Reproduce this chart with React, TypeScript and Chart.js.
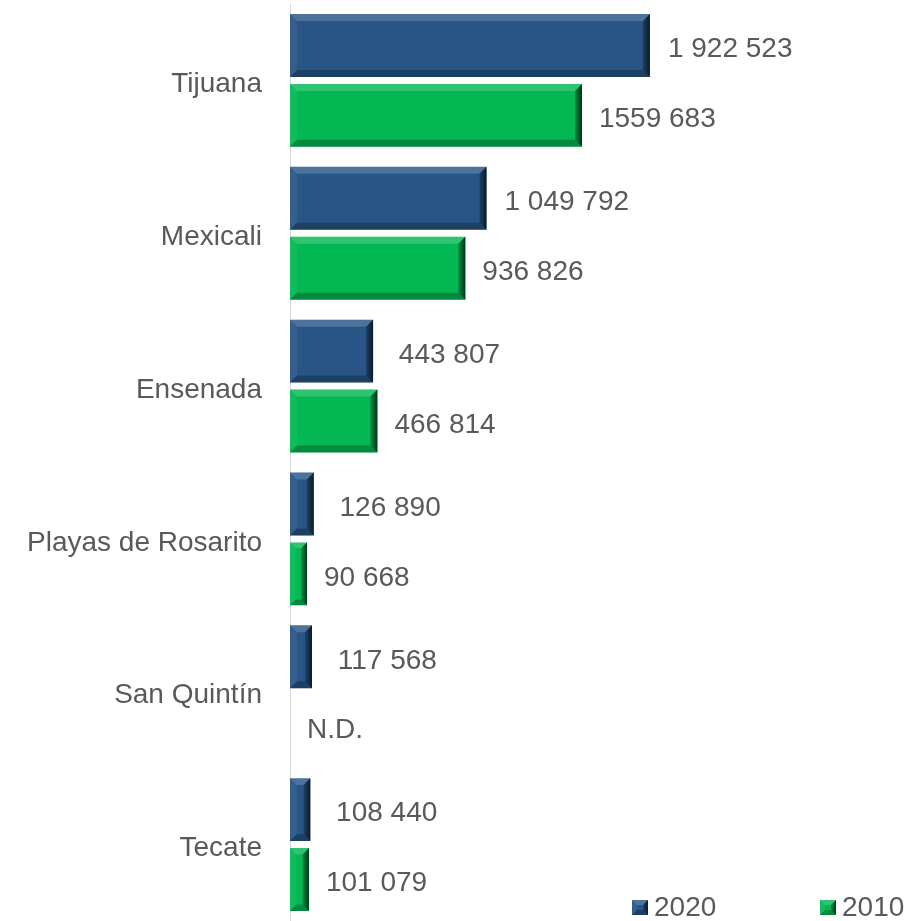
import { useEffect, useRef } from 'react';
import { Chart, registerables } from 'chart.js';

Chart.register(...registerables);

const categories = ['Tijuana', 'Mexicali', 'Ensenada', 'Playas de Rosarito', 'San Quintín', 'Tecate'];
const seriesNames = ['2020', '2010'];
const values2020 = [1922523, 1049792, 443807, 126890, 117568, 108440];
const values2010: (number | null)[] = [1559683, 936826, 466814, 90668, null, 101079];
const labels2020 = ['1 922 523', '1 049 792', ' 443 807', ' 126 890', ' 117 568', ' 108 440'];
const labels2010 = ['1559 683', '936 826', '466 814', '90 668', 'N.D.', '101 079'];

const FONT = "'Liberation Sans', Arial, sans-serif";
const TEXT = '#595959';
const BLUE = '#285586';
const GREEN = '#03B853';

function poly(ctx: CanvasRenderingContext2D, pts: number[][]) {
  ctx.beginPath();
  ctx.moveTo(pts[0][0], pts[0][1]);
  for (let i = 1; i < pts.length; i++) ctx.lineTo(pts[i][0], pts[i][1]);
  ctx.closePath();
  ctx.fill();
}

function bevel(ctx: CanvasRenderingContext2D, l: number, t: number, r: number, b: number, size: number) {
  const w = r - l;
  const h = b - t;
  if (w <= 1 || h <= 1) return;
  const s = Math.min(size, w / 3, h / 3);
  ctx.save();
  ctx.fillStyle = 'rgba(255,255,255,0.18)';
  poly(ctx, [[l, t], [r, t], [r - s, t + s], [l + s, t + s]]);
  ctx.fillStyle = 'rgba(255,255,255,0.06)';
  poly(ctx, [[l, t], [l + s, t + s], [l + s, b - s], [l, b]]);
  ctx.fillStyle = 'rgba(0,0,0,0.25)';
  poly(ctx, [[l, b], [r, b], [r - s, b - s], [l + s, b - s]]);
  const g = ctx.createLinearGradient(r - s, 0, r, 0);
  g.addColorStop(0, 'rgba(0,0,0,0.25)');
  g.addColorStop(1, 'rgba(0,0,0,0.7)');
  ctx.fillStyle = g;
  poly(ctx, [[r, t], [r - s, t + s], [r - s, b - s], [r, b]]);
  ctx.restore();
}

const bevelPlugin = {
  id: 'bevelBars',
  afterDatasetsDraw(chart: any) {
    const ctx = chart.ctx;
    chart.data.datasets.forEach((ds: any, i: number) => {
      const meta = chart.getDatasetMeta(i);
      meta.data.forEach((bar: any, j: number) => {
        if (ds.data[j] == null) return;
        const p = bar.getProps(['x', 'y', 'base', 'height'], true);
        if (!isFinite(p.x)) return;
        const l = Math.min(p.base, p.x);
        const r = Math.max(p.base, p.x);
        bevel(ctx, l, p.y - p.height / 2, r, p.y + p.height / 2, 7);
      });
    });
  },
};

const labelPlugin = {
  id: 'valueLabels',
  afterDatasetsDraw(chart: any) {
    const ctx = chart.ctx;
    const texts = [labels2020, labels2010];
    const offsets = [18, 17];
    const zero = chart.scales.x.getPixelForValue(0);
    ctx.save();
    ctx.font = `28px ${FONT}`;
    ctx.fillStyle = TEXT;
    ctx.textAlign = 'left';
    ctx.textBaseline = 'middle';
    chart.data.datasets.forEach((ds: any, i: number) => {
      const meta = chart.getDatasetMeta(i);
      meta.data.forEach((bar: any, j: number) => {
        const p = bar.getProps(['x', 'y'], true);
        const end = ds.data[j] == null || !isFinite(p.x) ? zero : p.x;
        ctx.fillText(texts[i][j], end + offsets[i], p.y + 4);
      });
    });
    ctx.restore();
  },
};

const legendPlugin = {
  id: 'cornerLegend',
  afterDraw(chart: any) {
    const ctx = chart.ctx;
    const xs = [632, 820];
    const boxY = 900;
    ctx.save();
    ctx.font = `28px ${FONT}`;
    ctx.textAlign = 'left';
    ctx.textBaseline = 'middle';
    chart.data.datasets.forEach((ds: any, i: number) => {
      const x = xs[i];
      ctx.fillStyle = ds.backgroundColor;
      ctx.fillRect(x, boxY, 16, 15);
      bevel(ctx, x, boxY, x + 16, boxY + 15, 5);
      ctx.fillStyle = TEXT;
      ctx.fillText(ds.label, x + 22, boxY + 8);
    });
    ctx.restore();
  },
};

export default function App() {
  const ref = useRef<HTMLCanvasElement | null>(null);

  useEffect(() => {
    if (!ref.current) return;
    const chart = new Chart(ref.current, {
      type: 'bar',
      data: {
        labels: categories,
        datasets: [
          {
            label: seriesNames[0],
            data: values2020,
            backgroundColor: BLUE,
            categoryPercentage: 0.915,
            barPercentage: 0.9,
          },
          {
            label: seriesNames[1],
            data: values2010,
            backgroundColor: GREEN,
            categoryPercentage: 0.915,
            barPercentage: 0.9,
          },
        ],
      },
      options: {
        indexAxis: 'y',
        responsive: false,
        animation: false,
        devicePixelRatio: 1,
        layout: { padding: { top: 4, bottom: 0, left: 0, right: 152 } },
        scales: {
          x: {
            display: false,
            min: 0,
            max: 2500000,
          },
          y: {
            grid: { display: false, drawTicks: false },
            border: { display: true, color: '#D9D9D9', width: 1 },
            ticks: {
              font: { family: FONT, size: 28 },
              color: TEXT,
              padding: 28,
              labelOffset: 4,
            },
            afterFit(scale: any) {
              scale.width = 290;
              scale.paddingTop = 0;
              scale.paddingBottom = 0;
            },
          },
        },
        plugins: {
          legend: { display: false },
          tooltip: { enabled: false },
        },
      },
      plugins: [bevelPlugin, labelPlugin, legendPlugin],
    } as any);
    return () => chart.destroy();
  }, []);

  return (
    <div style={{ position: 'absolute', left: 0, top: 0, width: 910, height: 921, background: '#fff' }}>
      <canvas ref={ref} width={910} height={921} style={{ display: 'block' }} />
    </div>
  );
}
